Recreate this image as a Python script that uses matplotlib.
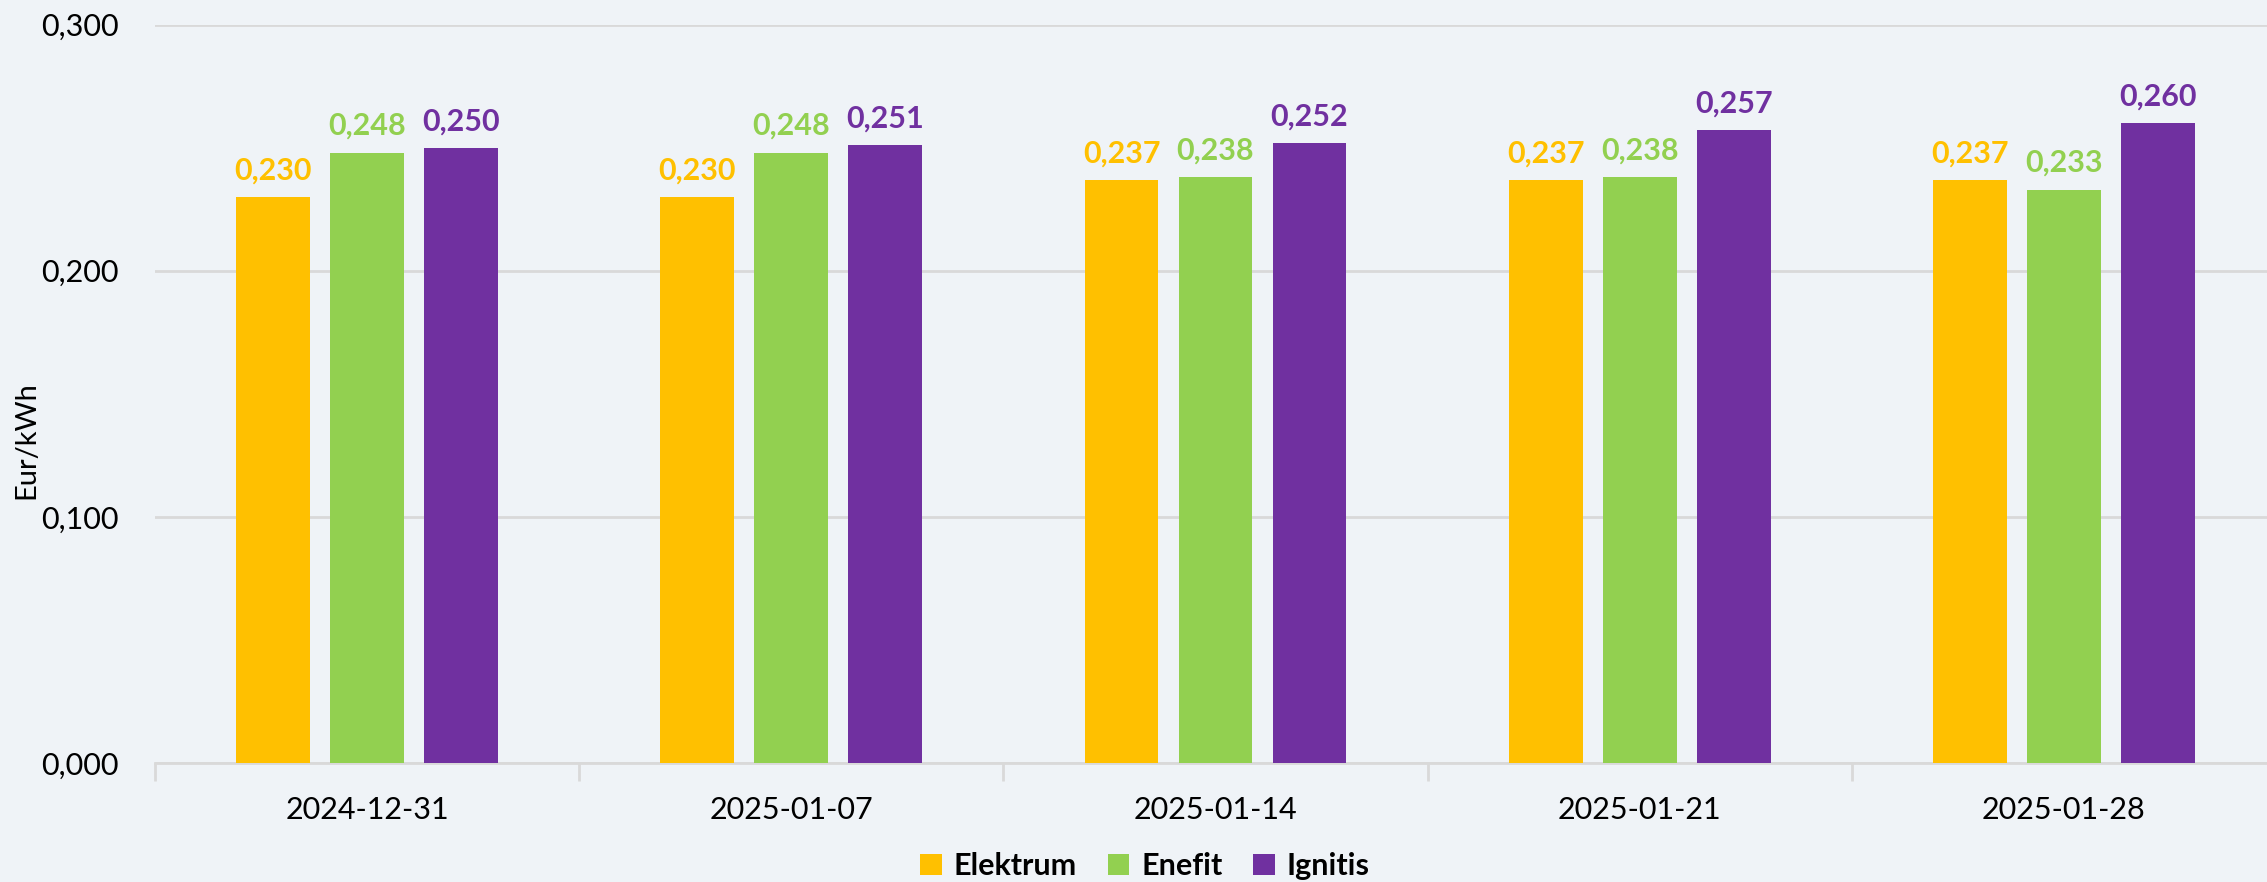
import numpy as np
import matplotlib
matplotlib.use("Agg")
import matplotlib.pyplot as plt
from matplotlib.ticker import FuncFormatter, FixedLocator

# data
dates = ['2024-12-31', '2025-01-07', '2025-01-14', '2025-01-21', '2025-01-28']
elektrum = [0.230, 0.230, 0.237, 0.237, 0.237]
enefit = [0.248, 0.248, 0.238, 0.238, 0.233]
ignitis = [0.250, 0.251, 0.252, 0.257, 0.260]
series_names = ['Elektrum', 'Enefit', 'Ignitis']
colors = ['#FFC000', '#92D050', '#7030A0']

plt.rcParams['font.family'] = ['Lato', 'DejaVu Sans']
bg = '#EFF3F7'

W, H = 2267, 882
fig = plt.figure(figsize=(W / 100, H / 100), dpi=100, facecolor=bg)
ax = fig.add_axes([155 / W, (H - 763) / H, (2276 - 155) / W, (763 - 24.6) / H])
ax.set_facecolor(bg)

x = np.arange(len(dates))
width = 0.174
step = 0.2215
for i, (vals, name, c) in enumerate(zip([elektrum, enefit, ignitis], series_names, colors)):
    bars = ax.bar(x + (i - 1) * step, vals, width, color=c, label=name, zorder=3)
    for b, v in zip(bars, vals):
        ax.annotate(f"{v:.3f}".replace('.', ','),
                    (b.get_x() + b.get_width() / 2, v),
                    xytext=(0, 9), textcoords='offset points',
                    ha='center', va='bottom', color=c,
                    fontsize=22, fontweight='bold')

ax.set_xlim(-0.5, len(dates) - 0.5)
ax.set_ylim(0, 0.3)
ax.set_yticks([0, 0.1, 0.2, 0.3])
ax.yaxis.set_major_formatter(FuncFormatter(lambda v, pos: f"{v:.3f}".replace('.', ',')))
ax.grid(axis='y', color='#D9D9D9', linewidth=2, zorder=0)

ax.set_xticks(x)
ax.set_xticklabels(dates)
ax.xaxis.set_minor_locator(FixedLocator(np.arange(len(dates) + 1) - 0.5))
ax.tick_params(axis='x', which='major', length=0, pad=24, labelsize=22)
ax.tick_params(axis='x', which='minor', length=13, width=2, color='#D9D9D9')
ax.tick_params(axis='y', length=0, pad=26, labelsize=22)

for s in ['top', 'right', 'left']:
    ax.spines[s].set_visible(False)
ax.spines['bottom'].set_color('#D9D9D9')
ax.spines['bottom'].set_linewidth(2)

fig.text(26 / W, 1 - 440 / H, 'Eur/kWh', rotation=90, ha='center', va='center', fontsize=21)

leg = fig.legend(loc='center', bbox_to_anchor=(1145 / W, 1 - 866 / H), ncol=3,
                 frameon=False, handlelength=0.7, handleheight=0.7,
                 handletextpad=0.4, columnspacing=1.0,
                 prop={'size': 22, 'weight': 'bold'})

fig.savefig('out.png', dpi=100, facecolor=bg)
